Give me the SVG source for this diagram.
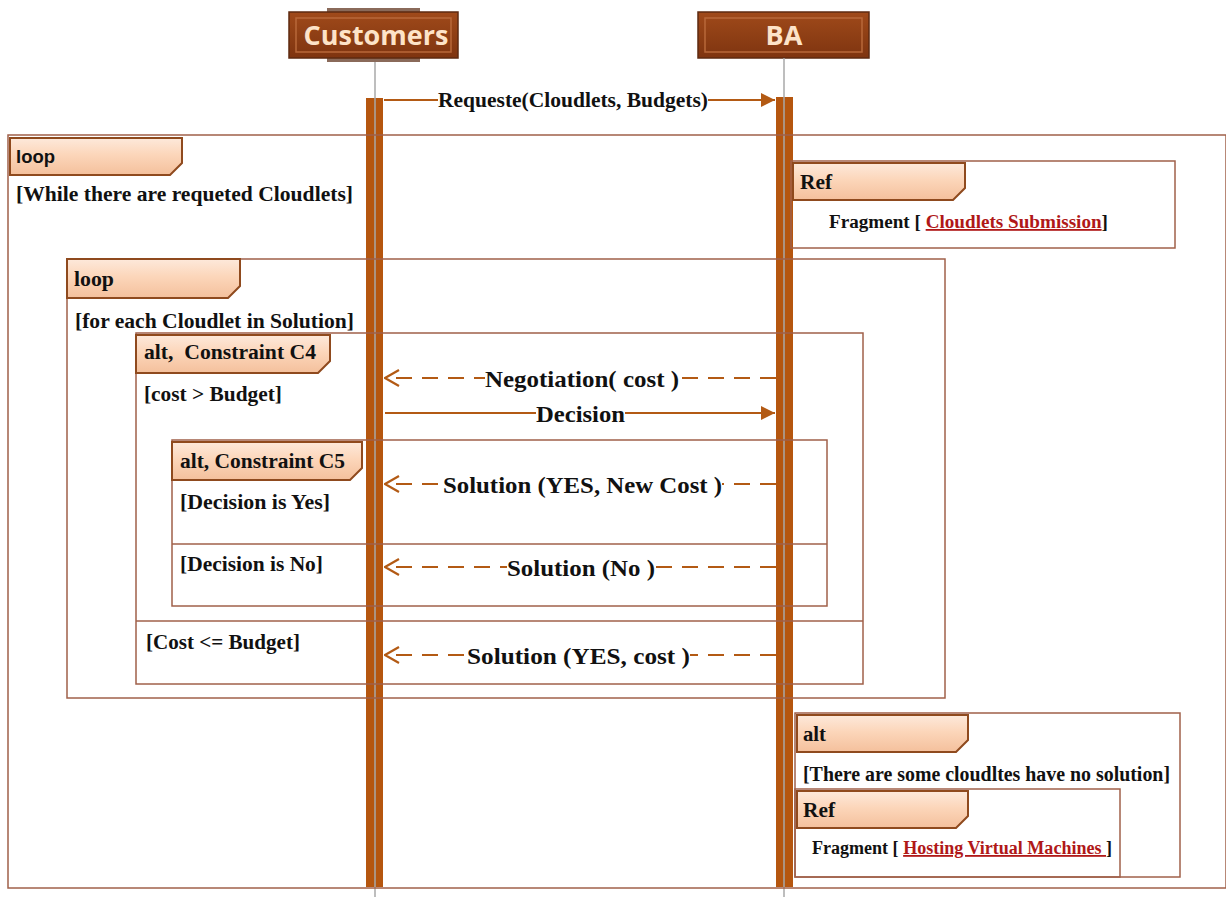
<svg xmlns="http://www.w3.org/2000/svg" width="1226" height="897" viewBox="0 0 1226 897">
<defs>
<linearGradient id="tabG" x1="0" y1="0" x2="0" y2="1">
<stop offset="0" stop-color="#fde9db"/>
<stop offset="0.45" stop-color="#fcd6ba"/>
<stop offset="1" stop-color="#f4c09c"/>
</linearGradient>
<linearGradient id="hdrG" x1="0" y1="0" x2="0" y2="1">
<stop offset="0" stop-color="#a04a1a"/>
<stop offset="1" stop-color="#7e3410"/>
</linearGradient>
<marker id="fill" viewBox="0 0 14 14" refX="14" refY="7" markerWidth="14" markerHeight="14" markerUnits="userSpaceOnUse" orient="auto">
<path d="M0,0 L14,7 L0,14 Z" fill="#b35a14"/>
</marker>
<marker id="open" viewBox="0 0 16 18" refX="15" refY="9" markerWidth="16" markerHeight="18" markerUnits="userSpaceOnUse" orient="auto">
<path d="M1,1 L15,9 L1,17" fill="none" stroke="#b35a14" stroke-width="2.2"/>
</marker>
</defs>
<style>
.frame{fill:none;stroke:#a0604a;stroke-width:1.5}
.tab{fill:url(#tabG);stroke:#8f4a1e;stroke-width:2}
.tt{font-family:"Liberation Serif",serif;font-weight:bold;font-size:20px;fill:#111}
.ts{font-family:"Liberation Sans",sans-serif;font-weight:bold;font-size:18px;fill:#111}
.g{font-family:"Liberation Serif",serif;font-weight:bold;font-size:20px;fill:#111}
.m{font-family:"Liberation Serif",serif;font-weight:bold;font-size:24px;fill:#111}
.f{font-family:"Liberation Serif",serif;font-weight:bold;font-size:18px;fill:#111}
.lnk{fill:#b01818;text-decoration:underline}
.sol{stroke:#b35a14;stroke-width:2;fill:none}
.dash{stroke:#b35a14;stroke-width:2;fill:none;stroke-dasharray:16 10}
.bar{fill:#b5560f}
.life{stroke:#a8a8a8;stroke-width:1.5}
.hdr{font-family:"Open Sans","Liberation Sans",sans-serif;font-weight:bold;font-size:27px;fill:#fde3c8;text-anchor:middle}
</style>
<rect width="1226" height="897" fill="#fff"/>

<g id="customers">
<rect x="327" y="8" width="93" height="6" fill="#8a6a5a"/>
<rect x="327" y="56" width="93" height="6" fill="#8a6a5a"/>
<rect x="289" y="12" width="169" height="46" fill="url(#hdrG)" stroke="#5e2a10" stroke-width="1.5"/>
<rect x="296" y="18" width="155" height="34" fill="none" stroke="#b8683a" stroke-width="1.5"/>
<text class="hdr" x="376" y="45">Customers</text>
<line class="life" x1="375" y1="62" x2="375" y2="897"/>
<rect class="bar" x="366" y="98" width="17" height="789"/>
<line class="life" x1="375" y1="98" x2="375" y2="887"/>
</g>

<g id="ba">
<rect x="698" y="12" width="171" height="46" fill="url(#hdrG)" stroke="#5e2a10" stroke-width="1.5"/>
<rect x="705" y="18" width="157" height="34" fill="none" stroke="#b8683a" stroke-width="1.5"/>
<text class="hdr" x="784" y="45">BA</text>
<line class="life" x1="784" y1="58" x2="784" y2="897"/>
<rect class="bar" x="776" y="97" width="17" height="790"/>
<line class="life" x1="784" y1="97" x2="784" y2="887"/>
</g>

<g id="loop-outer">
<rect class="frame" x="8" y="135" width="1218" height="753"/>
<path class="tab" d="M10,138 H182 V163 L170,175 H10 Z"/>
<text class="ts" x="16" y="163" textLength="39" lengthAdjust="spacingAndGlyphs">loop</text>
<text class="g" x="16" y="201" textLength="337" lengthAdjust="spacingAndGlyphs">[While there are requeted Cloudlets]</text>
</g>

<g id="ref-submission">
<rect class="frame" x="791" y="161" width="384" height="87"/>
<path class="tab" d="M793,163 H965 V188 L953,200 H793 Z"/>
<text class="tt" x="800" y="189" textLength="32" lengthAdjust="spacingAndGlyphs">Ref</text>
<text class="f" x="829" y="228" textLength="279" lengthAdjust="spacingAndGlyphs">Fragment [ <tspan class="lnk">Cloudlets Submission</tspan>]</text>
</g>

<g id="loop-inner">
<rect class="frame" x="67" y="259" width="878" height="439"/>
<path class="tab" d="M67,259 H240 V286 L228,298 H67 Z"/>
<text class="tt" x="74" y="286" textLength="40" lengthAdjust="spacingAndGlyphs">loop</text>
<text class="g" x="75" y="328" textLength="279" lengthAdjust="spacingAndGlyphs">[for each Cloudlet in Solution]</text>
</g>

<g id="alt-c4">
<rect class="frame" x="136" y="333" width="727" height="351"/>
<line class="frame" x1="136" y1="621" x2="863" y2="621"/>
<path class="tab" d="M136,335 H330 V361 L318,373 H136 Z"/>
<text class="tt" x="144" y="359" xml:space="preserve" textLength="172" lengthAdjust="spacingAndGlyphs">alt,  Constraint C4</text>
<text class="g" x="144" y="401" textLength="138" lengthAdjust="spacingAndGlyphs">[cost &gt; Budget]</text>
<text class="g" x="146" y="649" textLength="154" lengthAdjust="spacingAndGlyphs">[Cost &lt;= Budget]</text>
</g>

<g id="alt-c5">
<rect class="frame" x="172" y="440" width="655" height="166"/>
<line class="frame" x1="172" y1="544" x2="827" y2="544"/>
<path class="tab" d="M172,442 H362 V468 L350,480 H172 Z"/>
<text class="tt" x="180" y="468" textLength="165" lengthAdjust="spacingAndGlyphs">alt, Constraint C5</text>
<text class="g" x="180" y="509" textLength="150" lengthAdjust="spacingAndGlyphs">[Decision is Yes]</text>
<text class="g" x="180" y="571" textLength="143" lengthAdjust="spacingAndGlyphs">[Decision is No]</text>
</g>

<g id="alt-nosolution">
<rect class="frame" x="795" y="713" width="385" height="164"/>
<path class="tab" d="M797,715 H968 V740 L956,752 H797 Z"/>
<text class="tt" x="803" y="741" textLength="23" lengthAdjust="spacingAndGlyphs">alt</text>
<text class="g" x="803" y="781" textLength="367" lengthAdjust="spacingAndGlyphs">[There are some cloudltes have no solution]</text>
</g>

<g id="ref-hosting">
<rect class="frame" x="795" y="789" width="325" height="88"/>
<path class="tab" d="M797,791 H968 V816 L956,828 H797 Z"/>
<text class="tt" x="803" y="817" textLength="32" lengthAdjust="spacingAndGlyphs">Ref</text>
<text class="f" x="812" y="854" textLength="300" lengthAdjust="spacingAndGlyphs">Fragment [ <tspan class="lnk">Hosting Virtual Machines </tspan>]</text>
</g>

<g id="connectors">
<line class="sol" x1="384" y1="100" x2="775" y2="100" marker-end="url(#fill)"/>
<rect x="438" y="88" width="270" height="22" fill="#fff"/>
<text class="f" x="438" y="107" textLength="270" lengthAdjust="spacingAndGlyphs" style="font-size:20px">Requeste(Cloudlets, Budgets)</text>

<line class="dash" x1="776" y1="378" x2="385" y2="378" marker-end="url(#open)"/>
<rect x="485" y="364" width="194" height="28" fill="#fff"/>
<text class="m" x="485" y="387" textLength="194" lengthAdjust="spacingAndGlyphs">Negotiation( cost )</text>

<line class="sol" x1="385" y1="413" x2="775" y2="413" marker-end="url(#fill)"/>
<rect x="536" y="400" width="89" height="26" fill="#fff"/>
<text class="m" x="536" y="422" textLength="89" lengthAdjust="spacingAndGlyphs">Decision</text>

<line class="dash" x1="776" y1="484" x2="385" y2="484" marker-end="url(#open)"/>
<rect x="443" y="470" width="279" height="28" fill="#fff"/>
<text class="m" x="443" y="493" textLength="279" lengthAdjust="spacingAndGlyphs">Solution (YES, New Cost )</text>

<line class="dash" x1="776" y1="567" x2="385" y2="567" marker-end="url(#open)"/>
<rect x="507" y="553" width="148" height="28" fill="#fff"/>
<text class="m" x="507" y="576" textLength="148" lengthAdjust="spacingAndGlyphs">Solution (No )</text>

<line class="dash" x1="776" y1="655" x2="385" y2="655" marker-end="url(#open)"/>
<rect x="467" y="641" width="223" height="28" fill="#fff"/>
<text class="m" x="467" y="664" textLength="223" lengthAdjust="spacingAndGlyphs">Solution (YES, cost )</text>
</g>
</svg>
